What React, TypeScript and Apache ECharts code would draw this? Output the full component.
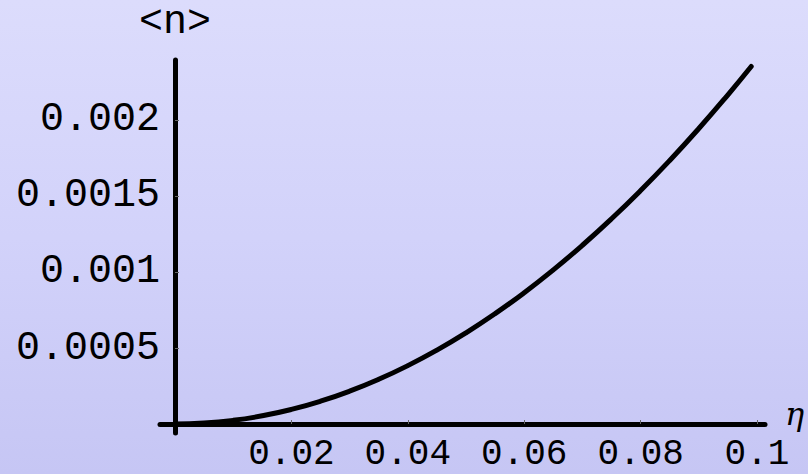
import React, { useEffect, useRef } from "react";
import * as echarts from "echarts";

const etaValues = [0, 0.005, 0.01, 0.015, 0.02, 0.025, 0.03, 0.035, 0.04, 0.045, 0.05, 0.055, 0.06, 0.065, 0.07, 0.075, 0.08, 0.085, 0.09, 0.095, 0.099];
const nValues = [0, 0.000006, 0.000024, 0.000054, 0.000096, 0.00015, 0.000216, 0.000294, 0.000384, 0.000486, 0.0006, 0.000726, 0.000864, 0.001014, 0.001176, 0.00135, 0.001536, 0.001734, 0.001944, 0.002166, 0.002352];
const xTicks = [0.02, 0.04, 0.06, 0.08, 0.1];
const yTicks = [0.0005, 0.001, 0.0015, 0.002];
const xName = "η";
const yName = "<n>";

export default function App() {
  const ref = useRef<HTMLDivElement>(null);
  useEffect(() => {
    document.body.style.margin = "0";
    if (!ref.current) return;
    const chart = echarts.init(ref.current, null, { renderer: "svg" });
    const mono = "Liberation Mono";
    chart.setOption({
      animation: false,
      backgroundColor: {
        type: "linear", x: 0, y: 0, x2: 0, y2: 1,
        colorStops: [
          { offset: 0, color: "#dcdcfc" },
          { offset: 0.5, color: "#d2d2fa" },
          { offset: 1, color: "#c6c6f4" },
        ],
      },
      grid: { left: 160, right: 43, top: 60, bottom: 41, containLabel: false, outerBoundsMode: "none" },
      graphic: [
        {
          type: "text",
          x: 785,
          y: 414,
          style: {
            text: xName,
            font: 'italic 32px "DejaVu Serif"',
            fill: "#000",
            verticalAlign: "middle",
            align: "left",
          },
        },
      ],
      xAxis: {
        type: "value",
        min: -0.00258,
        max: 0.10137,
        splitLine: { show: false },
        axisLine: { onZero: true, lineStyle: { color: "#000", width: 5, cap: "round" } },
        axisTick: { show: true, inside: true, length: 4, customValues: xTicks, lineStyle: { color: "#666", width: 1 } },
        axisLabel: {
          customValues: xTicks,
          margin: 9,
          fontFamily: mono,
          fontSize: 36,
          lineHeight: 24,
          color: "#000",
          formatter: (v: number) => String(Number(v.toFixed(4))),
        },
      },
      yAxis: {
        type: "value",
        min: -0.0000592,
        max: 0.0023947,
        name: yName,
        nameLocation: "end",
        nameGap: 38,
        nameTextStyle: { fontFamily: mono, fontSize: 40, lineHeight: 30, color: "#000", align: "center", verticalAlign: "middle" },
        splitLine: { show: false },
        axisLine: { onZero: true, lineStyle: { color: "#000", width: 5, cap: "round" } },
        axisTick: { show: true, inside: true, length: 4, customValues: yTicks, lineStyle: { color: "#666", width: 1 } },
        axisLabel: {
          customValues: yTicks,
          margin: 0,
          fontFamily: mono,
          fontSize: 40,
          lineHeight: 30,
          color: "#000",
          formatter: (v: number) => String(Number(v.toFixed(5))),
        },
      },
      series: [
        {
          type: "line",
          data: etaValues.map((x, i) => [x, nValues[i]]),
          smooth: true,
          showSymbol: false,
          lineStyle: { color: "#000", width: 5, cap: "round" },
          clip: false,
        },
      ],
    });
    return () => chart.dispose();
  }, []);
  return <div ref={ref} style={{ width: 808, height: 474 }} />;
}
